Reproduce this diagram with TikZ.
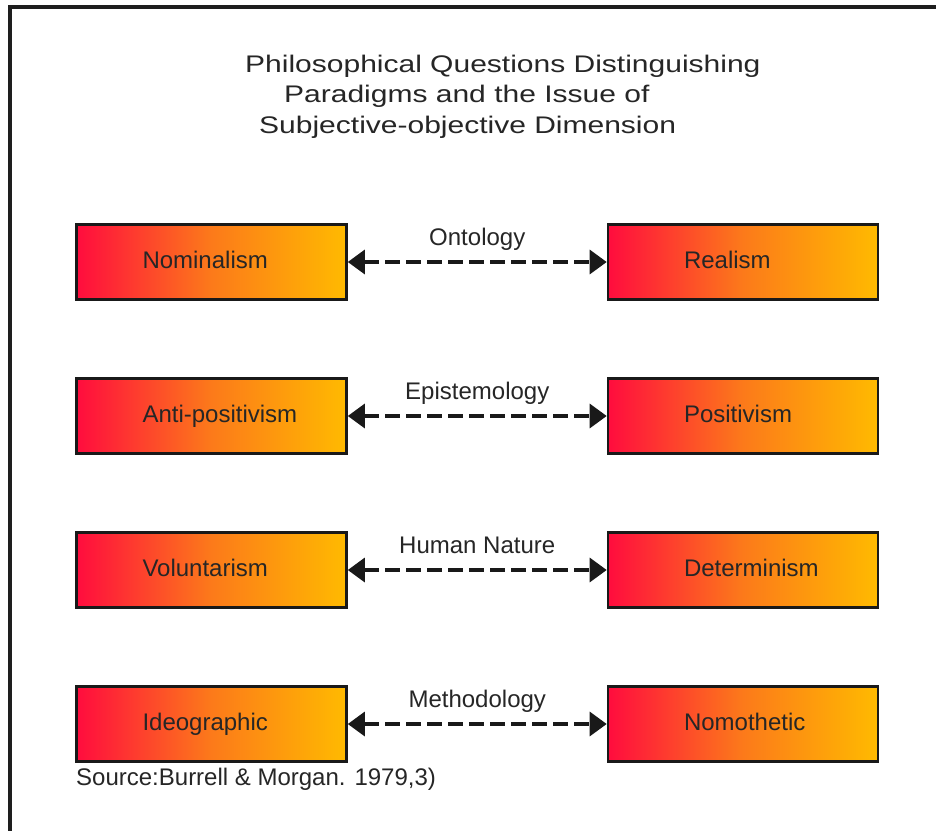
\documentclass[tikz,border=0pt]{standalone}
\usepackage{fontspec}
\setmainfont{Liberation Sans}
\newfontfamily\titlefont[FakeStretch=1.25]{Liberation Sans}
\usetikzlibrary{arrows.meta}

\definecolor{gradleft}{RGB}{255,12,62}
\definecolor{gradmid}{RGB}{252,122,26}
\definecolor{gradright}{RGB}{255,186,0}
\definecolor{framegray}{RGB}{30,30,30}

% red-to-amber fill of the concept boxes (path spans 25bp..75bp)
\pgfdeclarehorizontalshading{boxgrad}{100bp}{%
  color(0bp)=(gradleft); color(25bp)=(gradleft);
  color(50bp)=(gradmid);
  color(75bp)=(gradright); color(100bp)=(gradright)}

% box labels start at a fixed indent from the box's left side
\newcommand\padleft[1]{\makebox[270pt][l]{\hspace{66pt}#1}}
\newcommand\padright[1]{\makebox[270pt][l]{\hspace{76pt}#1}}

\begin{document}
\begin{tikzpicture}[x=1pt,y=-1pt,
  font=\fontsize{24}{28}\selectfont,
  concept/.style={draw=black!90, line width=2.6pt, shading=boxgrad,
    minimum width=270pt, minimum height=75pt, inner sep=0pt,
    text height=17pt, text depth=5pt, text=black!85},
  link/.style={{Triangle[length=17pt,width=24pt]}-{Triangle[length=17pt,width=24pt]},
    line width=3.2pt, dash pattern=on 15pt off 6pt, draw=black!90},
  linklabel/.style={midway, anchor=base, yshift=17pt, inner sep=0pt, text=black!85},
  titleline/.style={anchor=base west, inner sep=0pt, text=black!85,
    font=\fontsize{24}{28}\titlefont}]

\useasboundingbox (0,0) rectangle (936,830);
\fill[white] (0,0) rectangle (936,830);

% open frame: left and top edges only
\draw[line width=3.2pt, framegray, line cap=butt] (10,840) -- (10,7) -- (945,7);

% title
\node[titleline] (t1) at (245,72) {Philosophical Questions Distinguishing};
\node[titleline] (t2) at (284,102) {Paradigms and the Issue of};
\node[titleline] (t3) at (259,133) {Subjective-objective Dimension};

% subjective side
\node[concept] (n1) at (211.5,262) {\padleft{Nominalism}};
\node[concept] (n2) at (211.5,416) {\padleft{Anti-positivism}};
\node[concept] (n3) at (211.5,570) {\padleft{Voluntarism}};
\node[concept] (n4) at (211.5,724) {\padleft{Ideographic}};

% objective side
\node[concept] (m1) at (743,262) {\padright{Realism}};
\node[concept] (m2) at (743,416) {\padright{Positivism}};
\node[concept] (m3) at (743,570) {\padright{Determinism}};
\node[concept] (m4) at (743,724) {\padright{Nomothetic}};

% the four dimensions
\draw[link] (n1.east) -- (m1.west) node[linklabel] (l1) {Ontology};
\draw[link] (n2.east) -- (m2.west) node[linklabel] (l2) {Epistemology};
\draw[link] (n3.east) -- (m3.west) node[linklabel] (l3) {Human Nature};
\draw[link] (n4.east) -- (m4.west) node[linklabel] (l4) {Methodology};

% source
\node[anchor=base west, inner sep=0pt, text=black!85] (src) at (76,785) {Source:Burrell \& Morgan. 1979,3)};

\end{tikzpicture}
\end{document}
